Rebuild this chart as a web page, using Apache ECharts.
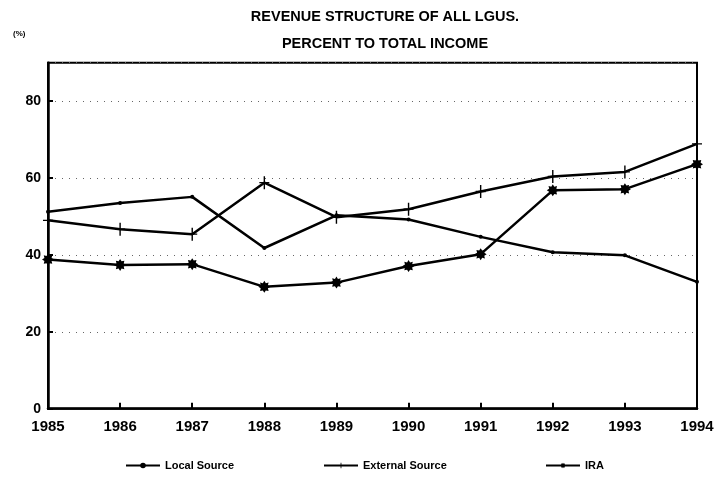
<!DOCTYPE html>
<html>
<head>
<meta charset="utf-8">
<script src="https://cdn.jsdelivr.net/npm/echarts@6/dist/echarts.min.js"></script>
<style>
  html, body { margin: 0; padding: 0; background: #fff; }
  #chart { width: 719px; height: 493px; }
</style>
</head>
<body>
<div id="chart"></div>
<script>
// 数据
const years = ['1985', '1986', '1987', '1988', '1989', '1990', '1991', '1992', '1993', '1994'];
const localSource = [51.2, 53.5, 55.1, 41.8, 50.3, 49.2, 44.7, 40.7, 39.9, 33.0];
const externalSource = [49.0, 46.7, 45.4, 58.8, 49.8, 51.9, 56.5, 60.4, 61.6, 68.9];
const ira = [38.8, 37.4, 37.6, 31.7, 32.8, 37.1, 40.2, 56.8, 57.1, 63.6];

const font = 'Liberation Sans';
const plusSymbol = 'path://M-0.14,-1H0.14V-0.1H1V0.1H0.14V1H-0.14V0.1H-1V-0.1H-0.14Z';
const starSymbol = 'path://M0,-1L0.25,-0.6L0.707,-0.707L0.6,-0.25L1,0L0.6,0.25L0.707,0.707L0.25,0.6L0,1L-0.25,0.6L-0.707,0.707L-0.6,0.25L-1,0L-0.6,-0.25L-0.707,-0.707L-0.25,-0.6Z';

const chart = echarts.init(document.getElementById('chart'));

const legendBase = {
  top: 455,
  itemWidth: 34,
  itemHeight: 7,
  textStyle: { fontFamily: font, fontWeight: 'bold', fontSize: 11, color: '#000' }
};

const option = {
  animation: false,
  backgroundColor: '#fff',
  title: [
    {
      text: 'REVENUE STRUCTURE OF ALL LGUS.\nPERCENT TO TOTAL INCOME',
      left: 380,
      top: -2,
      textAlign: 'center',
      textStyle: { fontFamily: font, fontWeight: 'bold', fontSize: 14.5, color: '#000', lineHeight: 27 }
    },
    {
      text: '(%)',
      left: 8,
      top: 25,
      textStyle: { fontFamily: font, fontWeight: 'bold', fontSize: 8, color: '#000' }
    }
  ],
  legend: [
    Object.assign({ left: 120, data: ['Local Source'] }, legendBase),
    Object.assign({ left: 318, data: ['External Source'] }, legendBase),
    Object.assign({ left: 540, data: ['IRA'] }, legendBase)
  ],
  grid: {
    left: 48,
    right: 22,
    top: 62.7,
    bottom: 84.3,
    show: true,
    borderColor: '#000',
    borderWidth: 2
  },
  xAxis: {
    type: 'category',
    data: years,
    boundaryGap: false,
    axisLine: { lineStyle: { color: '#000', width: 2.5 } },
    axisTick: { inside: true, length: 6, lineStyle: { color: '#000', width: 2 } },
    axisLabel: { fontFamily: font, fontWeight: 'bold', fontSize: 15, color: '#000', margin: 11 },
    splitLine: { show: false }
  },
  yAxis: {
    type: 'value',
    min: 0,
    max: 90,
    interval: 20,
    axisLine: { show: true, lineStyle: { color: '#000', width: 2.5 } },
    axisTick: { show: true, inside: true, length: 5, lineStyle: { color: '#000', width: 2 } },
    axisLabel: { fontFamily: font, fontWeight: 'bold', fontSize: 14, color: '#000', margin: 7, showMaxLabel: false },
    splitLine: { show: true, lineStyle: { color: '#666', width: 1, type: [1, 6] } }
  },
  series: [
    {
      name: 'Local Source',
      type: 'line',
      data: localSource,
      symbol: 'circle',
      symbolSize: 4,
      itemStyle: { color: '#000' },
      lineStyle: { color: '#000', width: 2.5 }
    },
    {
      name: 'External Source',
      type: 'line',
      data: externalSource,
      symbol: plusSymbol,
      symbolSize: [10, 13],
      itemStyle: { color: '#000' },
      lineStyle: { color: '#000', width: 2.5 }
    },
    {
      name: 'IRA',
      type: 'line',
      data: ira,
      symbol: starSymbol,
      symbolSize: 12,
      itemStyle: { color: '#000' },
      lineStyle: { color: '#000', width: 2.5 }
    }
  ]
};

chart.setOption(option);
</script>
</body>
</html>
